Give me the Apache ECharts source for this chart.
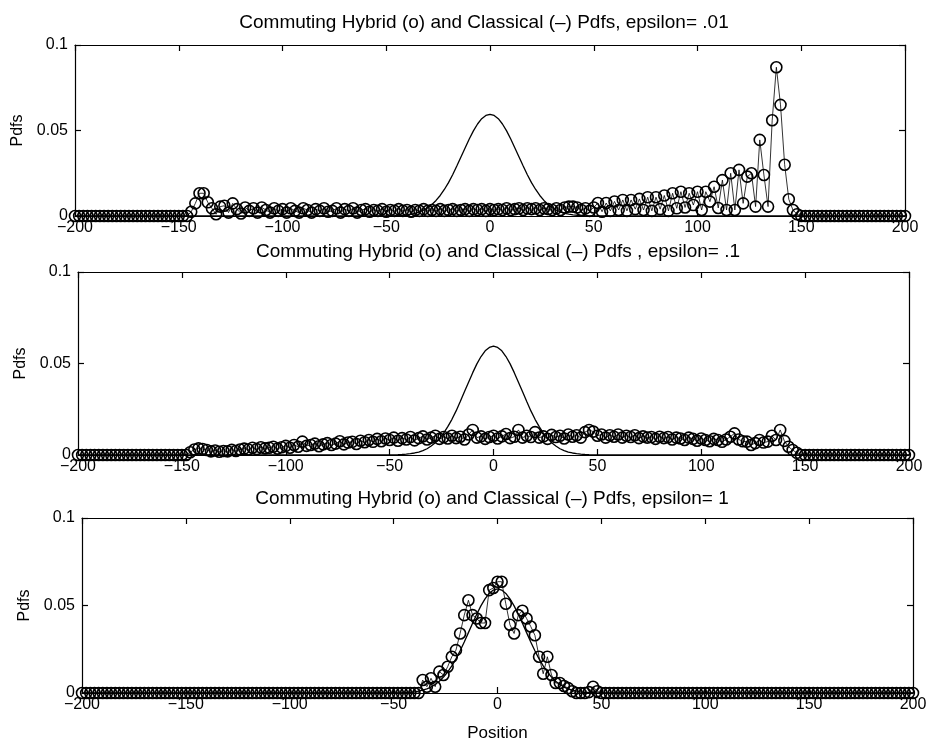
<!DOCTYPE html>
<html><head><meta charset="utf-8">
<script src="https://cdn.jsdelivr.net/npm/echarts@6/dist/echarts.min.js"></script>
<style>html,body{margin:0;padding:0;background:#fff}#c{width:934px;height:744px}</style>
</head><body><div id="c"></div>
<script>
// ---------- DATA ----------
const panelTitles = [
  'Commuting Hybrid (o) and Classical (\u2013) Pdfs, epsilon= .01',
  'Commuting Hybrid (o) and Classical (\u2013) Pdfs , epsilon= .1',
  'Commuting Hybrid (o) and Classical (\u2013) Pdfs, epsilon= 1'
];
const xTicks = [-200, -150, -100, -50, 0, 50, 100, 150, 200];
const yTickLabels = ['0', '0.05', '0.1'];
const xName = 'Position';
const yName = 'Pdfs';

// sample positions: -200, -198, ..., 200 (step 2)
const gridStart = -200, gridStep = 2, gridCount = 201;

// Hybrid pdf, epsilon = .01 (rows of 10 samples, row r starts at x = -200 + 20 r)
const hybrid1 = [
  0,0,0,0,0,0,0,0,0,0,
  0,0,0,0,0,0,0,0,0,0,
  0,0,0,0,0,0,0,0,0.0025,0.0074,
  0.0133,0.0133,0.008,0.0045,0.001,0.0055,0.006,0.002,0.0074,0.004,
  0.0015,0.005,0.003,0.0045,0.002,0.005,0.0035,0.002,0.0045,0.003,
  0.004,0.002,0.0045,0.003,0.002,0.0045,0.0035,0.002,0.004,0.003,
  0.0045,0.0025,0.003,0.0045,0.002,0.004,0.003,0.0045,0.002,0.0035,
  0.004,0.0025,0.0035,0.003,0.004,0.0025,0.0035,0.003,0.004,0.003,
  0.0035,0.0025,0.0035,0.003,0.004,0.003,0.0035,0.003,0.004,0.003,
  0.0035,0.004,0.003,0.0035,0.004,0.003,0.004,0.0035,0.004,0.003,
  0.004,0.0035,0.004,0.0035,0.0045,0.0035,0.004,0.0045,0.0035,0.0045,
  0.004,0.0045,0.0035,0.0045,0.004,0.0035,0.0045,0.0035,0.005,0.0055,
  0.0055,0.005,0.0035,0.0045,0.003,0.005,0.0076,0.0025,0.0076,0.003,
  0.0085,0.0035,0.0094,0.003,0.0094,0.004,0.010,0.0035,0.011,0.003,
  0.011,0.004,0.012,0.003,0.0133,0.0045,0.0142,0.005,0.0133,0.0064,
  0.0142,0.0035,0.0142,0.0084,0.0171,0.0047,0.021,0.0035,0.025,0.0035,
  0.027,0.0074,0.023,0.025,0.0055,0.0445,0.024,0.0055,0.056,0.087,
  0.065,0.030,0.0098,0.0035,0.001,0,0,0,0,0,
  0,0,0,0,0,0,0,0,0,0,
  0,0,0,0,0,0,0,0,0,0,
  0
];
// Hybrid pdf, epsilon = .1
const hybrid2 = [
  0,0,0,0,0,0,0,0,0,0,
  0,0,0,0,0,0,0,0,0,0,
  0,0,0,0,0,0,0,0.0015,0.003,0.0036,
  0.0033,0.0027,0.002,0.0025,0.0018,0.0022,0.002,0.0028,0.0022,0.003,
  0.0035,0.003,0.004,0.0032,0.0042,0.0036,0.004,0.0045,0.0035,0.0042,
  0.005,0.004,0.0055,0.0045,0.0073,0.005,0.0055,0.0062,0.0048,0.0058,
  0.0065,0.0055,0.0062,0.0075,0.0058,0.0068,0.0072,0.006,0.0078,0.007,
  0.0082,0.0072,0.0088,0.0075,0.009,0.0082,0.0095,0.0078,0.0092,0.0085,
  0.0098,0.008,0.0092,0.0102,0.0085,0.0095,0.0105,0.0088,0.0098,0.009,
  0.0105,0.0092,0.01,0.0085,0.0112,0.0137,0.0095,0.0102,0.0088,0.0098,
  0.0105,0.009,0.0102,0.0115,0.0092,0.01,0.0137,0.0095,0.0105,0.0098,
  0.0125,0.0095,0.0102,0.0088,0.011,0.0098,0.0105,0.009,0.0112,0.01,
  0.0108,0.0095,0.0125,0.0137,0.0128,0.0105,0.0112,0.0095,0.0108,0.01,
  0.0112,0.0095,0.0105,0.0098,0.0108,0.0092,0.0102,0.0095,0.0098,0.0088,
  0.01,0.0092,0.0098,0.0085,0.0095,0.009,0.0082,0.0095,0.0088,0.0078,
  0.009,0.0082,0.0075,0.0088,0.0082,0.0072,0.0085,0.01,0.0118,0.0085,
  0.0075,0.0073,0.0055,0.0065,0.0082,0.0068,0.0073,0.0105,0.0082,0.0137,
  0.0077,0.0045,0.0027,0.0012,0,0,0,0,0,0,
  0,0,0,0,0,0,0,0,0,0,
  0,0,0,0,0,0,0,0,0,0,
  0
];
// Hybrid pdf, epsilon = 1
const hybrid3 = [
  0,0,0,0,0,0,0,0,0,0,
  0,0,0,0,0,0,0,0,0,0,
  0,0,0,0,0,0,0,0,0,0,
  0,0,0,0,0,0,0,0,0,0,
  0,0,0,0,0,0,0,0,0,0,
  0,0,0,0,0,0,0,0,0,0,
  0,0,0,0,0,0,0,0,0,0,
  0,0,0,0,0,0,0,0,0,0,
  0,0,0.0074,0.0036,0.0084,0.0036,0.0122,0.0103,0.015,0.0207,
  0.0245,0.034,0.0445,0.053,0.0445,0.0426,0.040,0.040,0.0588,0.060,
  0.0636,0.0636,0.051,0.039,0.034,0.0445,0.047,0.0426,0.038,0.033,
  0.0207,0.011,0.0207,0.0103,0.0057,0.0057,0.004,0.0028,0.001,0,
  0,0,0.0005,0.0036,0.001,0,0,0,0,0,
  0,0,0,0,0,0,0,0,0,0,
  0,0,0,0,0,0,0,0,0,0,
  0,0,0,0,0,0,0,0,0,0,
  0,0,0,0,0,0,0,0,0,0,
  0,0,0,0,0,0,0,0,0,0,
  0,0,0,0,0,0,0,0,0,0,
  0,0,0,0,0,0,0,0,0,0,
  0
];
// Classical pdf (same in all panels)
const classical = [
  0,0,0,0,0,0,0,0,0,0,
  0,0,0,0,0,0,0,0,0,0,
  0,0,0,0,0,0,0,0,0,0,
  0,0,0,0,0,0,0,0,0,0,
  0,0,0,0,0,0,0,0,0,0,
  0,0,0,0,0,0,0,0,0,0,
  0,0,0,0,0,0,0,0,0,0,
  0,0,0,0,0,0.00005,0.0001,0.00017,0.00027,0.00044,
  0.0007,0.0011,0.0016,0.0024,0.0034,0.0049,0.0067,0.0091,0.012,0.0155,
  0.0195,0.0241,0.0292,0.0345,0.0398,0.045,0.0498,0.0538,0.0569,0.0588,
  0.0595,0.0588,0.0569,0.0538,0.0498,0.045,0.0398,0.0345,0.0292,0.0241,
  0.0195,0.0155,0.012,0.0091,0.0067,0.0049,0.0034,0.0024,0.0016,0.0011,
  0.0007,0.00044,0.00027,0.00017,0.0001,0.00005,0,0,0,0,
  0,0,0,0,0,0,0,0,0,0,
  0,0,0,0,0,0,0,0,0,0,
  0,0,0,0,0,0,0,0,0,0,
  0,0,0,0,0,0,0,0,0,0,
  0,0,0,0,0,0,0,0,0,0,
  0,0,0,0,0,0,0,0,0,0,
  0,0,0,0,0,0,0,0,0,0,
  0
];
const hybrids = [hybrid1, hybrid2, hybrid3];

// ---------- LAYOUT ----------
const FONT = '"Liberation Sans", Arial, Helvetica, sans-serif';
const grids = [
  {left: 75, right: 29, top: 45, height: 171},
  {left: 78, right: 25, top: 272, height: 183},
  {left: 82, right: 21, top: 518, height: 175}
];
const titlePos = [
  {left: 479, top: 8},
  {left: 493, top: 237},
  {left: 487, top: 484}
];

const positions = [];
for (let i = 0; i < gridCount; i++) positions.push(gridStart + gridStep * i);
const pairs = arr => arr.map((v, i) => [positions[i], v]);

const axisLine = {show: true, onZero: false, lineStyle: {color: '#000', width: 1.2}};
const tick = {show: true, inside: true, length: 6, lineStyle: {color: '#000', width: 1.2}};
const minus = s => String(s).replace('-', '\u2212');

const option = {
  backgroundColor: '#fff',
  animation: false,
  title: panelTitles.map((t, k) => ({
    text: t, left: titlePos[k].left, top: titlePos[k].top, textAlign: 'center',
    textStyle: {fontFamily: FONT, fontSize: 19, fontWeight: 'normal', color: '#000'}
  })),
  grid: grids,
  xAxis: [],
  yAxis: [],
  series: []
};

grids.forEach((g, k) => {
  option.xAxis.push({
    gridIndex: k, type: 'value', min: -200, max: 200, interval: 50, position: 'bottom',
    axisLine, splitLine: {show: false}, axisTick: tick,
    axisLabel: {fontFamily: FONT, fontSize: 16, color: '#000', margin: 4,
      formatter: v => xTicks.includes(v) ? minus(v) : ''},
    name: k === 2 ? xName : '', nameLocation: 'middle', nameGap: 32,
    nameTextStyle: {fontFamily: FONT, fontSize: 17, color: '#000'}
  });
  option.xAxis.push({
    gridIndex: k, type: 'value', min: -200, max: 200, interval: 50, position: 'top',
    axisLine, splitLine: {show: false}, axisTick: tick,
    axisLabel: {show: false}
  });
  option.yAxis.push({
    gridIndex: k, type: 'value', min: 0, max: 0.1, interval: 0.05, position: 'left',
    axisLine, splitLine: {show: false}, axisTick: tick,
    axisLabel: {fontFamily: FONT, fontSize: 16, color: '#000', margin: 7,
      formatter: (v, i) => yTickLabels[i]},
    name: yName, nameLocation: 'middle', nameGap: 49, nameRotate: 90,
    nameTextStyle: {fontFamily: FONT, fontSize: 16, color: '#000'}
  });
  option.yAxis.push({
    gridIndex: k, type: 'value', min: 0, max: 0.1, interval: 0.05, position: 'right',
    axisLine, splitLine: {show: false}, axisTick: tick,
    axisLabel: {show: false}
  });
  option.series.push({
    type: 'line', name: 'Classical', xAxisIndex: 2 * k, yAxisIndex: 2 * k,
    data: pairs(classical), symbol: 'none', clip: false,
    lineStyle: {color: '#000', width: 1.3}, z: 3
  });
  option.series.push({
    type: 'line', name: 'Hybrid', xAxisIndex: 2 * k, yAxisIndex: 2 * k,
    data: pairs(hybrids[k]), symbol: 'circle', symbolSize: 11, clip: false,
    showAllSymbol: true,
    lineStyle: {color: '#000', width: 0.8},
    itemStyle: {color: 'rgba(0,0,0,0)', borderColor: '#000', borderWidth: 1.6}, z: 4
  });
});

const chart = echarts.init(document.getElementById('c'), null, {renderer: 'canvas'});
chart.setOption(option);
</script></body></html>
